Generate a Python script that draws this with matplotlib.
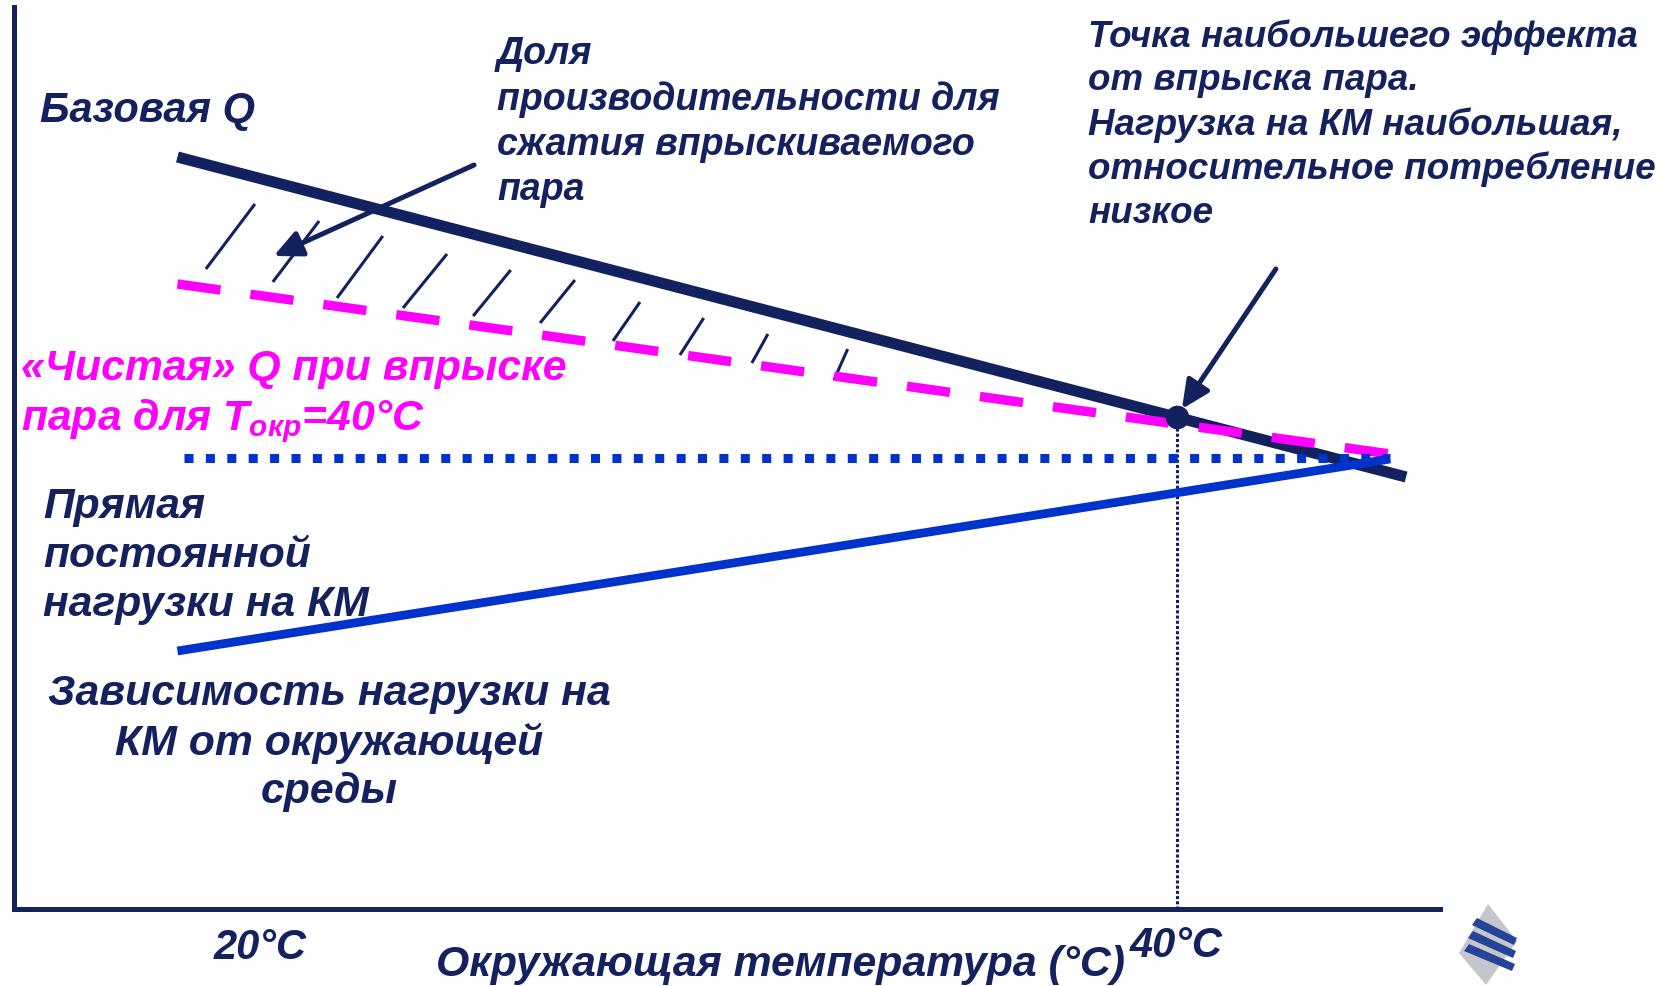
import numpy as np
import matplotlib
matplotlib.use('Agg')
import matplotlib.pyplot as plt
from matplotlib.patches import Polygon

plt.rcParams['font.family'] = ['Liberation Sans', 'DejaVu Sans']
plt.rcParams['font.weight'] = 'bold'
plt.rcParams['font.style'] = 'italic'
plt.rcParams['mathtext.fontset'] = 'custom'
plt.rcParams['mathtext.rm'] = 'Liberation Sans:bold:italic'
plt.rcParams['mathtext.it'] = 'Liberation Sans:bold:italic'
plt.rcParams['mathtext.bf'] = 'Liberation Sans:bold:italic'

NAVY = '#13225e'
BLUE = '#0033cc'
MAGENTA = '#ff00ff'

# x = ambient temperature (°C), y = Q (arbitrary units)
base_t = [18.2, 45.0]        # базовая Q
base_q = [75.2, 43.2]
net_t = [18.2, 44.65]        # "чистая" Q при впрыске пара
net_q = [62.5, 45.5]
const_t = [18.35, 44.65]     # постоянная нагрузка на КМ
const_q = [45.1, 45.1]
amb_t = [18.2, 44.65]        # зависимость нагрузки от окружающей среды
amb_q = [25.8, 45.0]
best_t = 40.0                # точка наибольшего эффекта
best_q = 49.2

# short hatch strokes between the two top lines
hatch_t0 = [18.82, 20.28, 21.68, 23.12, 24.65, 26.11, 27.70, 29.16, 30.73, 32.52]
hatch_q0 = [64.0, 62.7, 61.1, 60.1, 59.3, 58.6, 56.8, 55.4, 54.6, 52.9]
hatch_t1 = [19.89, 21.29, 22.68, 24.08, 25.47, 26.87, 28.29, 29.68, 31.08, 32.82]
hatch_q1 = [70.5, 68.8, 67.3, 65.5, 63.9, 62.9, 60.7, 59.1, 57.5, 56.0]

W, H = 1677, 987


def fp(px, py):
    return px / W, 1 - py / H


fig = plt.figure(figsize=(W / 100, H / 100), dpi=100)
ax = fig.add_axes([14 / W, 77 / H, 1426 / W, 902 / H])
ax.set_xlim(14.635, 45.74)
ax.set_ylim(0, 90.2)
for s in ['top', 'right']:
    ax.spines[s].set_visible(False)
for s in ['left', 'bottom']:
    ax.spines[s].set_color(NAVY)
    ax.spines[s].set_linewidth(3.6)
ax.set_xticks([])
ax.set_yticks([])

# hatching
for t0, q0, t1, q1 in zip(hatch_t0, hatch_q0, hatch_t1, hatch_q1):
    ax.plot([t0, t1], [q0, q1], color=NAVY, lw=2.2, solid_capstyle='butt')

ax.plot(base_t, base_q, color=NAVY, lw=8, solid_capstyle='butt', zorder=3)
ax.plot(net_t, net_q, color=MAGENTA, lw=6.8, linestyle=(0, (4.6, 3.2)),
        dash_capstyle='butt', zorder=4)
ax.plot(const_t, const_q, color=BLUE, lw=6.5, linestyle=(0, (1, 1.37)),
        dash_capstyle='butt', zorder=5)
ax.plot(amb_t, amb_q, color=BLUE, lw=6.3, solid_capstyle='butt', zorder=5)
ax.plot([best_t, best_t], [0, best_q], color=NAVY, lw=2.2,
        linestyle=(0, (1, 0.7)), dash_capstyle='butt', zorder=2)
ax.plot([best_t], [best_q], 'o', color=NAVY, ms=16, zorder=6)

arrow = dict(arrowstyle='-|>,head_length=1.7,head_width=0.8', color=NAVY,
             lw=3.6, shrinkA=0, shrinkB=0, mutation_scale=10)
ax.annotate('', xy=(20.3, 65.3), xytext=(24.67, 74.4), arrowprops=arrow, zorder=6)
ax.annotate('', xy=(40.11, 50.0), xytext=(42.16, 64.0), arrowprops=arrow, zorder=6)

# texts
fig.text(*fp(40, 111), 'Базовая Q', color=NAVY, fontsize=30, va='center')
fig.text(*fp(497, 122), 'Доля\nпроизводительности для\nсжатия впрыскиваемого\nпара',
         color=NAVY, fontsize=27, va='center', linespacing=1.33)
fig.text(*fp(1088, 125), 'Точка наибольшего эффекта\nот впрыска пара.\n'
         'Нагрузка на КМ наибольшая,\nотносительное потребление\nнизкое',
         color=NAVY, fontsize=26.5, va='center', linespacing=1.32)
fig.text(*fp(21, 397), '«Чистая» Q при впрыске\nпара для $T_{окр}$=40°C',
         color=MAGENTA, fontsize=30.8, va='center', linespacing=1.26)
fig.text(*fp(43, 556), 'Прямая\nпостоянной\nнагрузки на КМ',
         color=NAVY, fontsize=30.7, va='center', linespacing=1.28)
fig.text(*fp(329, 743), 'Зависимость нагрузки на\nКМ от окружающей\nсреды',
         color=NAVY, fontsize=30.8, va='center', ha='center', multialignment='center',
         linespacing=1.26)

fig.text(*fp(260, 948), '20°C', color=NAVY, fontsize=30, va='center', ha='center')
fig.text(*fp(1176, 946), '40°C', color=NAVY, fontsize=30, va='center', ha='center')
fig.text(*fp(780, 965), 'Окружающая температура (°C)', color=NAVY, fontsize=30.8,
         va='center', ha='center')

# logo
logo = [(1488, 905), (1517, 942), (1486, 986), (1459, 954)]
fig.add_artist(Polygon([fp(*p) for p in logo], closed=True, transform=fig.transFigure,
                       facecolor='#c4c6cc', edgecolor='none'))
for k in range(3):
    d = 13 * k
    band = [(1477 - 4 * k, 919 + d), (1517 - 1 * k, 939 + d),
            (1514 - 1 * k, 946 + d), (1472 - 4 * k, 926 + d)]
    fig.add_artist(Polygon([fp(*p) for p in band], closed=True, transform=fig.transFigure,
                           facecolor='#24449a', edgecolor='none'))

fig.savefig('out.png', dpi=100)
